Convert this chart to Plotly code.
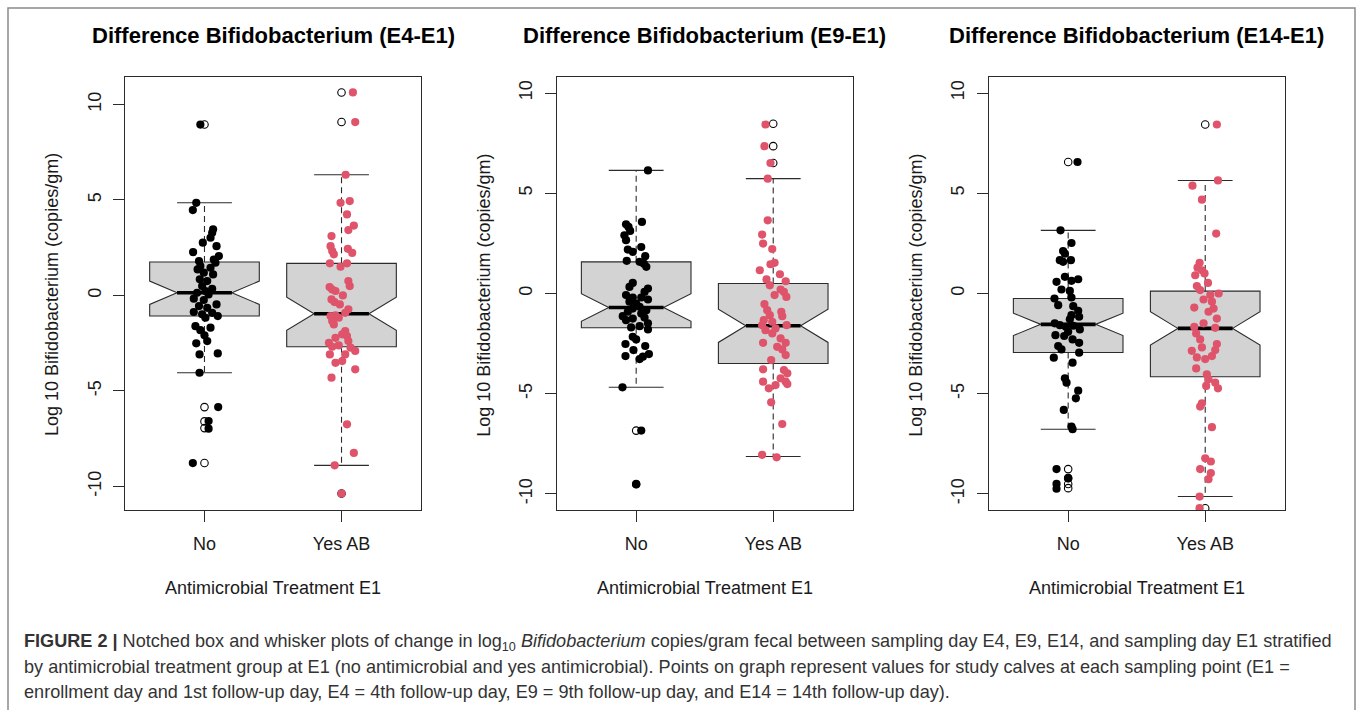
import plotly.graph_objects as go

# ---------------- data ----------------
CATEGORIES = ["No", "Yes AB"]
CAT_POS = [1, 2]
PANEL_TITLES = [
    "Difference Bifidobacterium (E4-E1)",
    "Difference Bifidobacterium (E9-E1)",
    "Difference Bifidobacterium (E14-E1)",
]
Y_TITLE = "Log 10 Bifidobacterium (copies/gm)"
X_TITLE = "Antimicrobial Treatment E1"
Y_TICKS = [-10, -5, 0, 5, 10]
Y_RANGES = [[-11.24, 11.44], [-10.8, 10.8], [-10.8, 10.8]]

# ---- E4 - E1 ----
E4_NO_VALUES = [8.95, 4.85, 4.47, 3.46, 3.28, 3.02, 2.76, 2.58, 2.27, 2.06, 1.88, 1.80, 1.71, 1.54,
                1.45, 1.36, 1.19, 1.10, 0.84, 0.75, 0.49, 0.35, 0.23, 0.14, 0.05, -0.17, -0.24, -0.47,
                -0.56, -0.65, -0.87, -0.91, -0.99, -1.08, -1.17, -1.61, -1.69, -1.82, -2.09, -2.39,
                -2.51, -3.04, -3.09, -4.05, -5.85, -6.58, -6.98, -8.78]
E4_NO_JITTER = [-0.03, -0.06, -0.085, 0.063, 0.056, 0.044, -0.012, 0.088, -0.083, 0.105, 0.068, -0.04,
                0.08, -0.03, 0.044, -0.05, -0.005, 0.063, -0.034, 0.02, -0.017, 0.056, 0.007, -0.054,
                0.03, -0.078, -0.005, 0.088, -0.04, 0.02, -0.078, 0.056, -0.017, 0.097, 0.007, -0.066,
                0.044, -0.03, 0.0, 0.02, -0.06, 0.097, -0.036, -0.036, 0.10, 0.03, 0.03, -0.085]
E4_NO_OUTLIERS = [8.95, -5.85, -6.6, -6.95, -8.78]

E4_YES_VALUES = [10.63, 9.08, 6.32, 4.94, 4.85, 4.24, 3.66, 3.42, 3.11, 2.58, 2.44, 2.32, 2.23, 2.15,
                 1.68, 1.68, 1.5, 0.75, 0.49, 0.44, 0.31, 0.23, 0.0, -0.21, -0.35, -0.47, -0.73, -0.91,
                 -1.05, -1.08, -1.17, -1.34, -1.52, -1.87, -2.04, -2.13, -2.22, -2.39, -2.48, -2.62,
                 -2.69, -2.74, -2.91, -3.09, -3.09, -3.44, -3.53, -3.87, -4.31, -6.75, -8.25, -8.9, -10.38]
E4_YES_JITTER = [0.083, 0.10, 0.03, 0.06, -0.007, 0.04, 0.09, 0.05, -0.073, -0.08, 0.046, -0.068, 0.078,
                 -0.056, -0.085, 0.04, -0.007, 0.05, 0.06, -0.087, -0.068, -0.044, 0.01, -0.073, -0.051,
                 -0.012, 0.05, 0.027, -0.044, -0.08, -0.02, -0.068, -0.056, 0.027, 0.005, 0.04, -0.044,
                 0.05, -0.092, -0.02, -0.068, 0.066, 0.1, 0.027, -0.085, 0.005, -0.044, 0.1, -0.073,
                 0.04, 0.09, -0.05, 0.0]
E4_YES_OUTLIERS = [10.63, 9.08, -10.38]

E4_Q1 = [-1.08, -2.69]
E4_MEDIAN = [0.14, -0.96]
E4_Q3 = [1.75, 1.68]
E4_NOTCH = [0.61, 0.87]
E4_WHISKER_LO = [-4.05, -8.9]
E4_WHISKER_HI = [4.85, 6.32]

# ---- E9 - E1 ----
E9_NO_VALUES = [6.14, 3.57, 3.45, 3.32, 3.12, 2.9, 2.66, 2.32, 2.19, 2.08, 1.86, 1.63, 1.58, 1.49, 1.33,
                0.53, 0.33, 0.25, 0.08, -0.08, -0.2, -0.2, -0.3, -0.41, -0.5, -0.66, -0.75, -0.83, -0.91,
                -1.0, -1.13, -1.2, -1.25, -1.33, -1.49, -1.63, -1.69, -1.79, -2.16, -2.29, -2.52, -2.62,
                -2.82, -3.02, -3.12, -3.15, -3.27, -4.68, -6.84, -9.51]
E9_NO_JITTER = [0.086, 0.042, -0.074, -0.056, -0.044, -0.086, -0.074, 0.037, -0.061, -0.025, 0.066,
                -0.069, 0.025, 0.056, 0.074, -0.025, -0.049, 0.086, 0.061, -0.074, -0.025, 0.037, 0.086,
                -0.049, 0.0, 0.025, -0.025, 0.074, -0.061, 0.037, -0.098, 0.061, -0.025, -0.074, 0.086,
                0.025, -0.037, 0.086, -0.025, 0.0, -0.078, 0.066, -0.02, 0.093, -0.078, 0.049, 0.025,
                -0.10, 0.037, 0.0]
E9_NO_OUTLIERS = [-6.84, -9.51]

E9_YES_VALUES = [8.43, 7.35, 6.51, 5.73, 3.65, 2.94, 2.49, 2.22, 1.53, 1.46, 1.16, 0.96, 0.7, 0.61, 0.41,
                 0.2, 0.08, -0.08, -0.17, -0.53, -0.83, -0.91, -1.08, -1.13, -1.33, -1.41, -1.58, -1.58,
                 -1.74, -1.83, -1.99, -2.24, -2.46, -2.46, -2.66, -2.79, -3.07, -3.32, -3.78, -3.82,
                 -3.98, -4.23, -4.4, -4.4, -4.52, -4.57, -4.73, -5.43, -6.51, -8.05, -8.17]
E9_YES_JITTER = [-0.056, -0.064, -0.02, -0.04, -0.04, -0.081, -0.074, -0.007, 0.01, -0.02, -0.098,
                 0.049, -0.049, 0.091, -0.025, 0.054, 0.078, 0.01, 0.096, -0.064, -0.044, 0.059,
                 -0.025, 0.066, -0.069, -0.007, -0.081, 0.098, 0.017, -0.056, -0.007, 0.054, 0.091,
                 -0.074, 0.029, 0.066, 0.091, -0.015, -0.074, 0.078, 0.103, 0.054, -0.074, 0.091,
                 0.103, 0.017, -0.032, -0.015, 0.066, -0.081, 0.025]
E9_YES_OUTLIERS = [8.47, 7.35, 6.51]

E9_Q1 = [-1.71, -3.49]
E9_MEDIAN = [-0.70, -1.61]
E9_Q3 = [1.58, 0.50]
E9_NOTCH = [0.69, 0.83]
E9_WHISKER_LO = [-4.68, -8.13]
E9_WHISKER_HI = [6.14, 5.73]

# ---- E14 - E1 ----
E14_NO_VALUES = [6.56, 3.15, 2.52, 2.12, 1.99, 1.66, 1.66, 1.58, 0.83, 0.71, 0.63, 0.58, 0.2, 0.13, -0.2,
                 -0.25, -0.58, -0.63, -0.86, -1.08, -1.16, -1.29, -1.49, -1.58, -1.61, -1.66, -1.79,
                 -1.91, -2.08, -2.12, -2.29, -2.46, -2.62, -2.79, -2.95, -3.2, -3.45, -4.23, -4.45,
                 -4.85, -5.23, -5.81, -6.64, -6.77, -8.76, -9.21, -9.5, -9.74]
E14_NO_JITTER = [0.068, -0.056, 0.024, -0.037, -0.024, -0.061, 0.02, -0.037, -0.024, 0.073, 0.024,
                 -0.085, -0.049, 0.012, 0.024, -0.1, -0.073, 0.037, 0.073, 0.024, 0.08, 0.012, -0.098,
                 -0.061, 0.037, -0.017, 0.085, 0.0, -0.093, -0.029, 0.032, 0.08, -0.073, -0.049, 0.08,
                 -0.105, 0.032, -0.024, -0.012, 0.073, 0.056, -0.032, 0.024, 0.032, -0.085, 0.0,
                 -0.085, -0.085]
E14_NO_OUTLIERS = [6.56, -8.76, -9.21, -9.5, -9.71]

E14_YES_VALUES = [8.43, 5.64, 5.38, 4.68, 2.99, 1.53, 1.29, 1.16, 1.0, 0.91, 0.53, 0.37, 0.17, 0.0, -0.08,
                  -0.3, -0.41, -0.7, -0.75, -0.91, -1.25, -1.49, -1.66, -1.71, -1.99, -2.29, -2.52,
                  -2.69, -2.82, -2.86, -3.12, -3.19, -3.27, -3.74, -4.03, -4.28, -4.45, -4.61, -4.73,
                  -5.48, -5.64, -6.67, -8.22, -8.38, -8.76, -8.96, -9.26, -10.13, -10.71]
E14_YES_JITTER = [0.085, 0.093, -0.093, -0.024, 0.08, -0.041, -0.056, -0.024, -0.005, -0.073, 0.02,
                  -0.061, -0.037, 0.098, 0.037, -0.012, 0.049, -0.08, 0.061, 0.024, 0.085, -0.012,
                  -0.08, 0.073, -0.066, -0.037, 0.085, -0.024, 0.073, -0.098, 0.049, -0.061, 0.0,
                  -0.066, 0.012, 0.024, 0.073, 0.007, 0.093, -0.024, -0.037, 0.049, 0.0, 0.041,
                  -0.037, 0.041, 0.024, -0.041, -0.041]
E14_YES_OUTLIERS = [8.43, -10.71]

E14_Q1 = [-2.94, -4.15]
E14_MEDIAN = [-1.54, -1.74]
E14_Q3 = [-0.25, 0.12]
E14_NOTCH = [0.56, 0.83]
E14_WHISKER_LO = [-6.77, -10.13]
E14_WHISKER_HI = [3.15, 5.64]

CAPTION_LINES = [
    "<b>FIGURE 2 |</b> Notched box and whisker plots of change in log<sub>10</sub> <i>Bifidobacterium</i> "
    "copies/gram fecal between sampling day E4, E9, E14, and sampling day E1 stratified",
    "by antimicrobial treatment group at E1 (no antimicrobial and yes antimicrobial). Points on graph "
    "represent values for study calves at each sampling point (E1 =",
    "enrollment day and 1st follow-up day, E4 = 4th follow-up day, E9 = 9th follow-up day, and E14 = "
    "14th follow-up day).",
]

# ---------------- styling ----------------
W, H = 1358, 710
FONT = "Liberation Sans, Arial, sans-serif"
INK = "#1a1a1a"
LINE = "#2b2b2b"
BOX_FILL = "#d3d3d3"
GROUP_COLORS = ["#000000", "#DF536B"]
BOX_WIDTH = 0.8
X_RANGE = [0.42, 2.58]
PLOT_LEFT_PX = [125, 556.7, 988.7]
PLOT_WIDTH_PX = 296
PLOT_TOP_PX, PLOT_BOTTOM_PX = 77, 510


def px_x(v):
    return v / W


def px_y(v):
    return 1 - v / H


panels = [
    dict(no=(E4_NO_VALUES, E4_NO_JITTER, E4_NO_OUTLIERS), yes=(E4_YES_VALUES, E4_YES_JITTER, E4_YES_OUTLIERS),
         q1=E4_Q1, med=E4_MEDIAN, q3=E4_Q3, notch=E4_NOTCH, lo=E4_WHISKER_LO, hi=E4_WHISKER_HI),
    dict(no=(E9_NO_VALUES, E9_NO_JITTER, E9_NO_OUTLIERS), yes=(E9_YES_VALUES, E9_YES_JITTER, E9_YES_OUTLIERS),
         q1=E9_Q1, med=E9_MEDIAN, q3=E9_Q3, notch=E9_NOTCH, lo=E9_WHISKER_LO, hi=E9_WHISKER_HI),
    dict(no=(E14_NO_VALUES, E14_NO_JITTER, E14_NO_OUTLIERS), yes=(E14_YES_VALUES, E14_YES_JITTER, E14_YES_OUTLIERS),
         q1=E14_Q1, med=E14_MEDIAN, q3=E14_Q3, notch=E14_NOTCH, lo=E14_WHISKER_LO, hi=E14_WHISKER_HI),
]

fig = go.Figure()
layout_axes = {}
annotations = []

for i, p in enumerate(panels):
    sfx = "" if i == 0 else str(i + 1)
    xa, ya = "x" + sfx, "y" + sfx

    # notched boxes (whiskers drawn separately, dashed like R)
    fig.add_trace(go.Box(
        x=CAT_POS, q1=p["q1"], median=p["med"], q3=p["q3"],
        lowerfence=p["q1"], upperfence=p["q3"], notchspan=p["notch"],
        notched=True, notchwidth=0.25, width=BOX_WIDTH, whiskerwidth=0,
        fillcolor=BOX_FILL, line=dict(color=LINE, width=1.1),
        boxpoints=False, hoverinfo="skip", showlegend=False, xaxis=xa, yaxis=ya))

    for k, pos in enumerate(CAT_POS):
        # dashed whiskers
        fig.add_trace(go.Scatter(
            x=[pos, pos, None, pos, pos], y=[p["q3"][k], p["hi"][k], None, p["q1"][k], p["lo"][k]],
            mode="lines", line=dict(color=LINE, width=1.1, dash="6px,4px"),
            hoverinfo="skip", showlegend=False, xaxis=xa, yaxis=ya))
        # staples
        hw = BOX_WIDTH / 4
        fig.add_trace(go.Scatter(
            x=[pos - hw, pos + hw, None, pos - hw, pos + hw],
            y=[p["hi"][k], p["hi"][k], None, p["lo"][k], p["lo"][k]],
            mode="lines", line=dict(color=LINE, width=1.1),
            hoverinfo="skip", showlegend=False, xaxis=xa, yaxis=ya))
        # thick median
        fig.add_trace(go.Scatter(
            x=[pos - hw, pos + hw], y=[p["med"][k], p["med"][k]],
            mode="lines", line=dict(color="#000000", width=3.6),
            hoverinfo="skip", showlegend=False, xaxis=xa, yaxis=ya))

    for k, key in enumerate(["no", "yes"]):
        vals, jit, outs = p[key]
        pos = CAT_POS[k]
        # boxplot outliers (open circles at the box centre)
        fig.add_trace(go.Scatter(
            x=[pos] * len(outs), y=outs, mode="markers",
            marker=dict(symbol="circle-open", size=7.5, color="#000000", line=dict(width=1.1)),
            hoverinfo="skip", showlegend=False, xaxis=xa, yaxis=ya))
        # jittered observations
        fig.add_trace(go.Scatter(
            x=[pos + j for j in jit], y=vals, mode="markers",
            marker=dict(size=8.2, color=GROUP_COLORS[k], line=dict(width=0)),
            name=CATEGORIES[k], showlegend=False, xaxis=xa, yaxis=ya))

    left = PLOT_LEFT_PX[i]
    dom_x = [px_x(left), px_x(left + PLOT_WIDTH_PX)]
    dom_y = [px_y(PLOT_BOTTOM_PX), px_y(PLOT_TOP_PX)]
    common = dict(showline=True, mirror=True, linecolor=LINE, linewidth=1.1, showgrid=False,
                  zeroline=False, ticks="outside", ticklen=11, tickwidth=1.1, tickcolor=LINE,
                  tickfont=dict(family=FONT, size=18, color=INK))
    layout_axes["xaxis" + sfx] = dict(common, domain=dom_x, range=X_RANGE, tickvals=CAT_POS,
                                      ticktext=CATEGORIES, anchor=ya, ticklabelstandoff=6)
    layout_axes["yaxis" + sfx] = dict(common, domain=dom_y, range=Y_RANGES[i], tickvals=Y_TICKS,
                                      ticktext=[str(t) for t in Y_TICKS], tickangle=-90,
                                      anchor=xa, ticklabelstandoff=5)

    cx = px_x(left + PLOT_WIDTH_PX / 2)
    annotations.append(dict(text="<b>" + PANEL_TITLES[i] + "</b>", x=cx, y=px_y(35), xref="paper",
                            yref="paper", xanchor="center", yanchor="middle", showarrow=False,
                            font=dict(family=FONT, size=22, color="#000000")))
    annotations.append(dict(text=X_TITLE, x=cx, y=px_y(588), xref="paper", yref="paper",
                            xanchor="center", yanchor="middle", showarrow=False,
                            font=dict(family=FONT, size=18, color=INK)))
    annotations.append(dict(text=Y_TITLE, x=px_x(left - 73), y=px_y(295), xref="paper", yref="paper",
                            xanchor="center", yanchor="middle", textangle=-90, showarrow=False,
                            font=dict(family=FONT, size=18, color=INK)))

for n, line in enumerate(CAPTION_LINES):
    annotations.append(dict(text=line, x=px_x(22), y=px_y(642 + 25 * n), xref="paper", yref="paper",
                            xanchor="left", yanchor="middle", align="left", showarrow=False,
                            font=dict(family=FONT, size=18.1, color="#333333")))

fig.update_layout(
    width=W, height=H, margin=dict(l=0, r=0, t=0, b=0),
    paper_bgcolor="white", plot_bgcolor="white", showlegend=False,
    annotations=annotations,
    shapes=[dict(type="rect", xref="paper", yref="paper", x0=px_x(8), x1=px_x(1355),
                 y0=-0.02, y1=px_y(8), line=dict(color="#8a8a8a", width=1.5), layer="below")],
    **layout_axes,
)

fig.write_html("out.html", config={"displayModeBar": False},
               post_script="document.body.style.margin='0';")
